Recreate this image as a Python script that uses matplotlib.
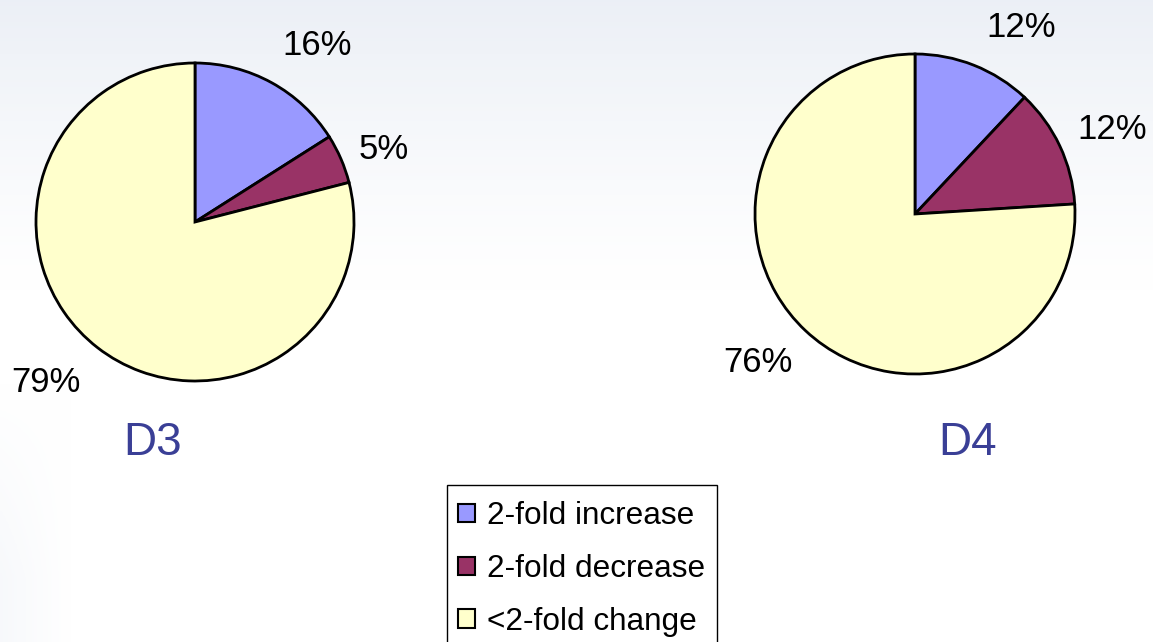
import numpy as np
import matplotlib
matplotlib.use("Agg")
import matplotlib.pyplot as plt
from matplotlib.patches import Patch, Rectangle

plt.rcParams['font.family'] = ['Liberation Sans', 'DejaVu Sans']

categories = ['2-fold increase', '2-fold decrease', '<2-fold change']
colors = ['#9999ff', '#993366', '#ffffcc']
d3_values = [16, 5, 79]
d4_values = [12, 12, 76]
panel_titles = ['D3', 'D4']

W, H = 1153, 642
fig = plt.figure(figsize=(W / 100, H / 100), dpi=100)

# soft background: pale blue-grey at the top fading to white
bg = fig.add_axes([0, 0, 1, 1], zorder=0)
yy = np.linspace(0, 1, 300)[:, None]
xx = np.linspace(0, 1, 400)[None, :]
top_fade = np.clip(1 - yy / 0.45, 0, 1) ** 1.2
left_fade = np.clip(1 - xx / 0.06, 0, 1) * np.clip((yy - 0.6) / 0.3, 0, 1) * 0.4
shade = np.clip(top_fade + left_fade, 0, 1)
base = np.array([0.925, 0.94, 0.965])
img = 1 - (1 - base)[None, None, :] * shade[:, :, None]
bg.imshow(img, extent=[0, 1, 0, 1], aspect='auto', origin='upper')
bg.axis('off')

ax = fig.add_axes([0, 0, 1, 1], zorder=1)
ax.set_xlim(0, W)
ax.set_ylim(0, H)
ax.set_aspect('equal')
ax.axis('off')
ax.patch.set_alpha(0)

# (centre, radius, title position, per-label (distance factor, angle shift))
pies = [
    (d3_values, (195, H - 222), 159, (153, H - 443),
     [(1.35, -6), (1.27, -2.5), (1.38, -5)]),
    (d4_values, (915, H - 214), 160, (968, H - 443),
     [(1.34, -8), (1.34, -2), (1.35, -3.5)]),
]
for (vals, center, r, tpos, lab_adj), title in zip(pies, panel_titles):
    wedges, _, autotexts = ax.pie(
        vals, colors=colors, startangle=90, counterclock=False,
        center=center, radius=r, autopct='%.0f%%', pctdistance=1.35,
        wedgeprops=dict(edgecolor='black', linewidth=2.0),
        textprops=dict(fontsize=25, color='black'), frame=True)
    for w, t, (fac, shift) in zip(wedges, autotexts, lab_adj):
        mid = np.deg2rad((w.theta1 + w.theta2) / 2 + shift)
        t.set_position((center[0] + fac * r * np.cos(mid),
                        center[1] + fac * r * np.sin(mid)))
    ax.text(tpos[0], tpos[1], title, fontsize=33, color='#3a3f96',
            ha='center', va='center')

ax.set_xlim(0, W)
ax.set_ylim(0, H)
ax.axis('off')

# legend box running off the bottom edge
ax.add_patch(Rectangle((447, -10), 717 - 447, (H - 485) + 10,
                       facecolor='white', edgecolor='black', linewidth=1.0,
                       zorder=4))

handles = [Patch(facecolor=c, edgecolor='black', linewidth=1.5) for c in colors]
leg = fig.legend(handles, categories, loc='upper left',
                 bbox_to_anchor=(447 / W, 1 - 490 / H), fontsize=22.7,
                 frameon=False,
                 handlelength=0.53, handleheight=0.53, handletextpad=0.37,
                 labelspacing=0.72, borderpad=0.36, borderaxespad=0)
leg.set_zorder(5)

fig.savefig('out.png', dpi=100)
